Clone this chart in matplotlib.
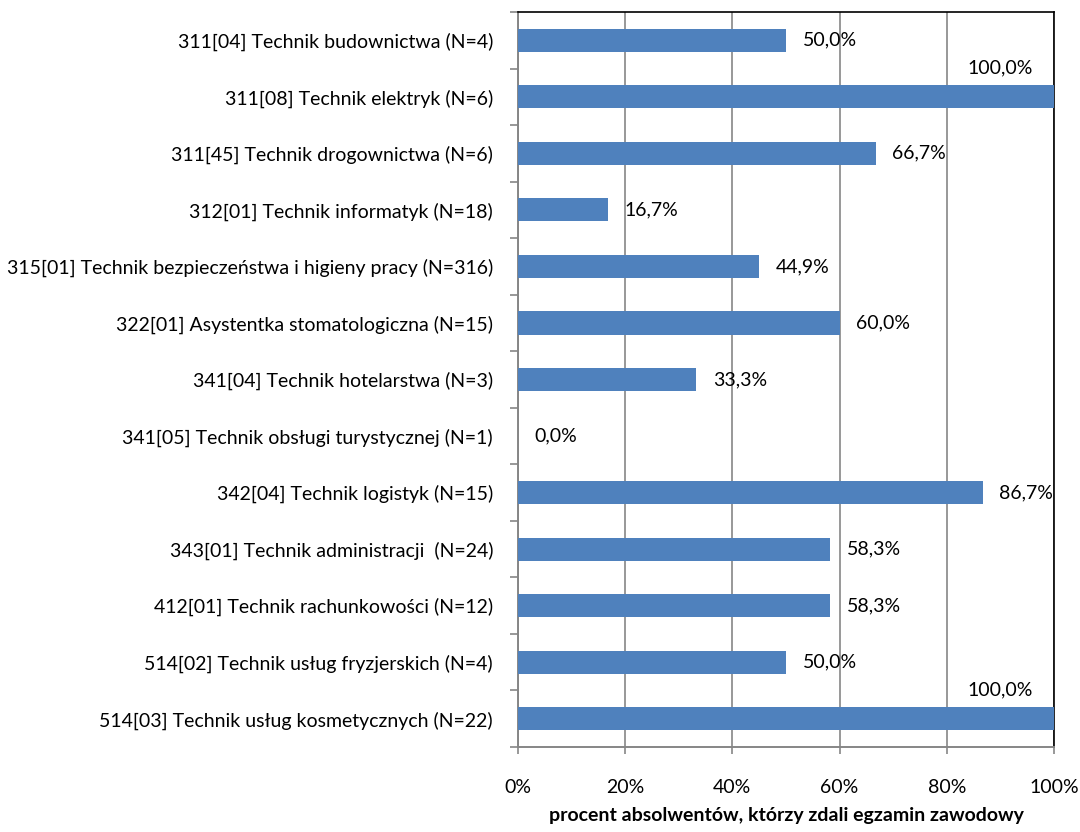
import numpy as np
import matplotlib
matplotlib.use("Agg")
import matplotlib.pyplot as plt

categories = [
    "311[04] Technik budownictwa (N=4)",
    "311[08] Technik elektryk (N=6)",
    "311[45] Technik drogownictwa (N=6)",
    "312[01] Technik informatyk (N=18)",
    "315[01] Technik bezpieczeństwa i higieny pracy (N=316)",
    "322[01] Asystentka stomatologiczna (N=15)",
    "341[04] Technik hotelarstwa (N=3)",
    "341[05] Technik obsługi turystycznej (N=1)",
    "342[04] Technik logistyk (N=15)",
    "343[01] Technik administracji  (N=24)",
    "412[01] Technik rachunkowości (N=12)",
    "514[02] Technik usług fryzjerskich (N=4)",
    "514[03] Technik usług kosmetycznych (N=22)",
]
values = [50.0, 100.0, 66.7, 16.7, 44.9, 60.0, 33.3, 0.0, 86.7, 58.3, 58.3, 50.0, 100.0]
xticks = [0, 20, 40, 60, 80, 100]

plt.rcParams['font.family'] = ['Lato', 'DejaVu Sans']
fs = 14

fig = plt.figure(figsize=(10.8, 8.32), dpi=100)
ax = fig.add_axes([518/1080, 1 - 747/832, (1054 - 518)/1080, (747 - 12)/832])

y = np.arange(len(categories))
ax.barh(y, values, height=0.41, color="#4F81BD", zorder=3)
ax.set_ylim(len(categories) - 0.5, -0.5)
ax.set_xlim(0, 100)

# etykiety wartości (100% nad słupkiem)
for yi, v in zip(y, values):
    txt = f"{v:.1f}%".replace(".", ",")
    if v >= 99.9:
        ax.annotate(txt, (v, yi), xytext=(-15, 21), textcoords="offset points",
                    ha="right", va="center", fontsize=fs, color="black")
    else:
        ax.annotate(txt, (v, yi), xytext=(12, 0), textcoords="offset points",
                    ha="left", va="center", fontsize=fs, color="black")

ax.set_yticks(np.arange(len(categories) + 1) - 0.5, minor=False)
ax.set_yticklabels([])
ax.set_yticks(y, minor=True)
ax.set_yticklabels(categories, minor=True, fontsize=fs)
ax.tick_params(axis="y", which="minor", length=0, pad=18)
ax.tick_params(axis="y", which="major", length=6, color="#868686", width=1.2)

ax.set_xticks(xticks)
ax.set_xticklabels([f"{t}%" for t in xticks], fontsize=fs)
ax.tick_params(axis="x", length=5, color="#868686", width=1.2, pad=18)
ax.xaxis.grid(True, color="#868686", linewidth=1.2, zorder=0)

for s in ["left", "bottom"]:
    ax.spines[s].set_color("#868686")
    ax.spines[s].set_linewidth(1.4)
for s in ["top", "right"]:
    ax.spines[s].set_color("black")
    ax.spines[s].set_linewidth(1.2)

ax.set_xlabel("procent absolwentów, którzy zdali egzamin zawodowy",
              fontsize=fs, fontweight="bold", labelpad=8)

fig.savefig("out.png", dpi=100)
